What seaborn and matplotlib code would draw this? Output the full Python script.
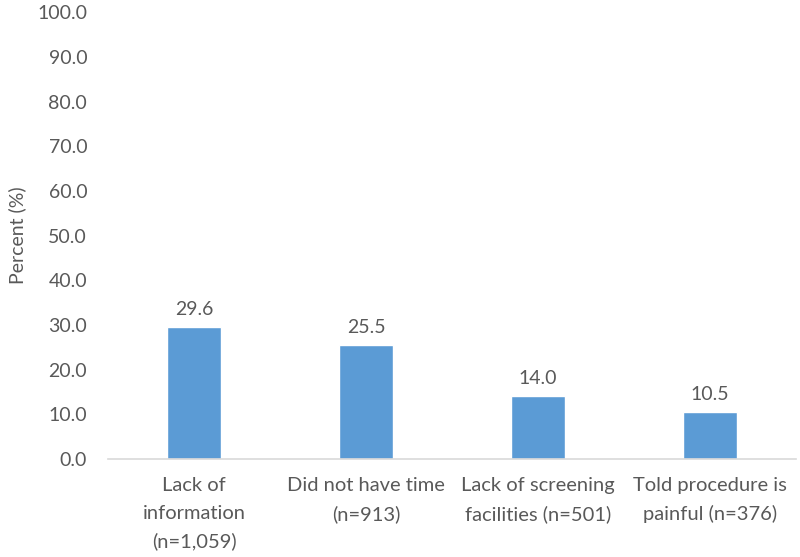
import seaborn as sns
import matplotlib.pyplot as plt
import pandas as pd

# reasons for not being screened
reasons = ['Lack of\ninformation\n(n=1,059)', 'Did not have time\n(n=913)',
           'Lack of screening\nfacilities (n=501)', 'Told procedure is\npainful (n=376)']
percent = [29.6, 25.5, 14.0, 10.5]
yticks = [0, 10, 20, 30, 40, 50, 60, 70, 80, 90, 100]

df = pd.DataFrame({'reason': reasons, 'percent': percent})

sns.set_style('white')
plt.rcParams['font.family'] = ['Lato', 'DejaVu Sans']
grey = '#595959'
fs = 14

fig = plt.figure(figsize=(8, 5.57), dpi=100)
ax = fig.add_axes([0.135, 0.176, 0.86, 0.802])

sns.barplot(data=df, x='reason', y='percent', color='#5B9BD5', width=0.31,
            saturation=1, ax=ax)

for i, v in enumerate(df['percent']):
    ax.text(i, v + 2.0, f'{v:.1f}', ha='center', va='bottom', fontsize=fs, color=grey)

ax.set_ylim(0, 100)
ax.set_xlim(-0.5, 3.5)
ax.set_yticks(yticks)
ax.set_yticklabels([f'{t:.1f}' for t in yticks])
ax.tick_params(axis='y', length=0, labelsize=fs, labelcolor=grey, pad=15)
ax.tick_params(axis='x', length=0, labelsize=14.5, labelcolor=grey, pad=13)
for lbl in ax.get_xticklabels():
    lbl.set_linespacing(1.75)
ax.set_xlabel('')
ax.set_ylabel('Percent (%)', fontsize=fs, color=grey, labelpad=8)

sns.despine(ax=ax, left=True)
ax.spines['bottom'].set_color('#D9D9D9')
ax.spines['bottom'].set_linewidth(1.2)

fig.savefig('out.png', dpi=100)
